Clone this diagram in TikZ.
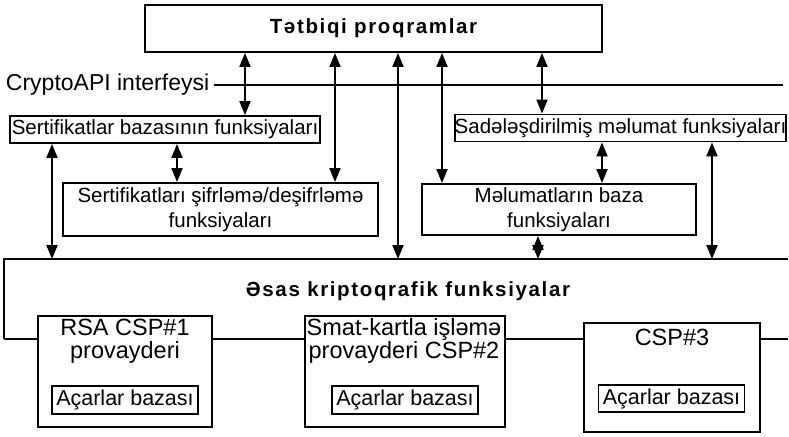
\documentclass[tikz,border=0pt]{standalone}
\usepackage{fontspec}
\setmainfont{Liberation Sans}
\newfontfamily\widefont[LetterSpace=8]{Liberation Sans}
\usetikzlibrary{arrows.meta, positioning}

\begin{document}
\begin{tikzpicture}[
    x=1pt, y=-1pt,
    >={Triangle[length=14pt, width=11pt]},
    every path/.style={line width=1.9pt},
    box/.style={draw, line width=1.9pt, inner sep=0pt, align=center, font=\fontsize{20.5}{25.5}\selectfont},
    title/.style={font=\widefont\bfseries\fontsize{20.5}{24}\selectfont},
    prov/.style={draw, line width=1.9pt, inner sep=0pt},
    provtext/.style={align=center, inner sep=0pt, font=\fontsize{23.5}{23}\selectfont},
    keys/.style={draw, line width=1.9pt, inner sep=0pt, minimum width=146pt, minimum height=28pt, font=\fontsize{21.5}{24}\selectfont}
]
   \useasboundingbox (0,0) rectangle (789,436);

   % Top level
   \node[box, minimum width=457pt, minimum height=47pt, title] (app) at (373.5,28.5) {Tətbiqi proqramlar};
   \node[anchor=west, inner sep=4pt, font=\fontsize{23}{26}\selectfont] (api) at (1,85) {CryptoAPI interfeysi};
   \coordinate (apiend) at (783,85);
   \draw (api.east) -- (apiend);

   % Function boxes
   \node[box, minimum width=310pt, minimum height=27pt] (cert) at (165,129.5) {Sertifikatlar bazasının funksiyaları};
   \node[box, minimum width=331pt, minimum height=27pt] (simple) at (620.5,128) {Sadələşdirilmiş məlumat funksiyaları};
   \node[box, minimum width=315pt, minimum height=53pt] (enc) at (220.5,209.5) {Sertifikatları şifrləmə/deşifrləmə\\funksiyaları};
   \node[box, minimum width=274pt, minimum height=51pt] (mdb) at (559,209.5) {Məlumatların baza\\funksiyaları};

   % Core functions
   \node[inner sep=0pt, minimum width=782pt, minimum height=78pt] (core) at (396,299) {};
   \node[title] (coretitle) at (408,291) {Əsas kriptoqrafik funksiyalar};

   % Providers
   \node[prov, minimum width=174pt, minimum height=111pt] (rsa) at (125,371.5) {};
   \node[provtext] (rsatext) at (125,341) {RSA CSP\#1\\provayderi};
   \node[keys] (rsakeys) at (125,400) {Açarlar bazası};

   \node[prov, minimum width=200pt, minimum height=111pt] (smart) at (405,371.5) {};
   \node[provtext] (smarttext) at (404,341) {Smat-kartla işləmə\\provayderi CSP\#2};
   \node[keys] (smartkeys) at (405,400) {Açarlar bazası};

   \node[prov, minimum width=176pt, minimum height=109pt] (csp3) at (672,377.5) {};
   \node[provtext] (csp3text) at (672,337) {CSP\#3};
   \node[keys, minimum height=27pt] (csp3keys) at (671.5,398.5) {Açarlar bazası};

   % Outline of the core block
   \draw (core.south west) -- (core.north west) -- (core.north east);
   \draw (core.south west) -- (rsa.west |- core.south);
   \draw (rsa.east |- core.south) -- (smart.west |- core.south);
   \draw (smart.east |- core.south) -- (csp3.west |- core.south);
   \draw (csp3.east |- core.south) -- (core.south east);

   % Columns of the arrows
   \coordinate (x1) at (52,0);
   \coordinate (x2) at (177,0);
   \coordinate (x3) at (245,0);
   \coordinate (x4) at (335,0);
   \coordinate (x5) at (398,0);
   \coordinate (x6) at (442,0);
   \coordinate (x7) at (538,0);
   \coordinate (x8) at (542,0);
   \coordinate (x9) at (602,0);
   \coordinate (x10) at (712,0);

   % Calls
   \path[<->]
   (app.south -| x3) edge (cert.north -| x3)
   (app.south -| x4) edge (enc.north -| x4)
   (app.south -| x5) edge (core.north -| x5)
   (app.south -| x6) edge (mdb.north -| x6)
   (app.south -| x8) edge (simple.north -| x8)

   (cert.south -| x2) edge (enc.north -| x2)
   (cert.south -| x1) edge (core.north -| x1)

   (simple.south -| x9) edge (mdb.north -| x9)
   (simple.south -| x10) edge (core.north -| x10)

   (mdb.south -| x7) edge (core.north -| x7);
\end{tikzpicture}
\end{document}
